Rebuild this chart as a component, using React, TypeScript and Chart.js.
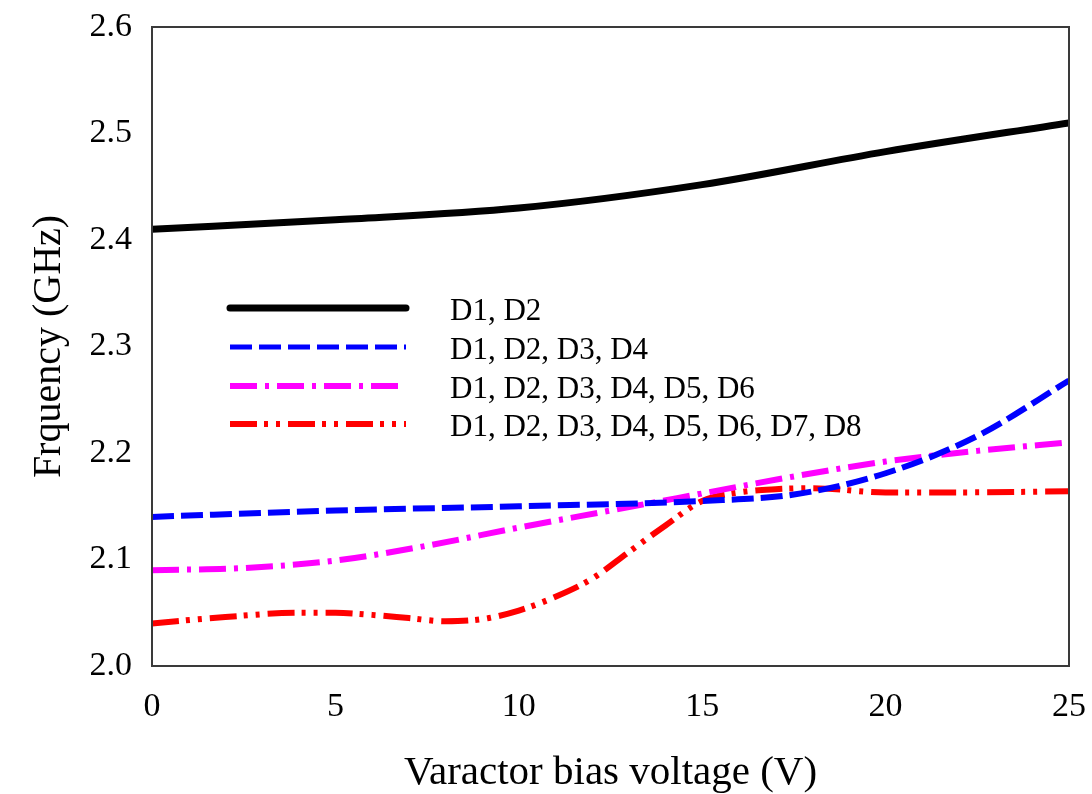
import React, { useEffect, useRef } from "react";
import { Chart, registerables } from "chart.js";

Chart.register(...registerables);

const seriesLabels = [
  "D1, D2",
  "D1, D2, D3, D4",
  "D1, D2, D3, D4, D5, D6",
  "D1, D2, D3, D4, D5, D6, D7, D8",
];

const xBlack = [0, 5, 10, 15, 20, 25];
const yBlack = [2.41, 2.419, 2.43, 2.452, 2.483, 2.51];

const xBlue = [0, 5, 10, 15, 17.5, 20, 22.5, 25];
const yBlue = [2.14, 2.146, 2.15, 2.155, 2.161, 2.181, 2.216, 2.268];

const xMagenta = [0, 2.5, 5, 7.5, 10, 12.5, 15, 17.5, 20, 22.5, 25];
const yMagenta = [2.09, 2.092, 2.099, 2.113, 2.13, 2.146, 2.162, 2.178, 2.192, 2.202, 2.21];

const xRed = [0, 2, 4, 5, 6, 7, 8, 9, 10, 11, 12, 13, 14, 15, 16, 17, 18, 20, 22, 25];
const yRed = [2.04, 2.046, 2.05, 2.05, 2.048, 2.045, 2.042, 2.044, 2.052, 2.065, 2.082, 2.107, 2.132, 2.155, 2.163, 2.166, 2.167, 2.163, 2.163, 2.164];

const xTicks = [0, 5, 10, 15, 20, 25];
const yTicks = [2.0, 2.1, 2.2, 2.3, 2.4, 2.5, 2.6];

const FONT = "'Liberation Serif', 'Times New Roman', serif";

function pts(xs: number[], ys: number[]) {
  return xs.map((x, i) => ({ x, y: ys[i] }));
}

const framePlugin = {
  id: "frame",
  afterDatasetsDraw(chart: any) {
    const { ctx, chartArea } = chart;
    ctx.save();
    ctx.strokeStyle = "#3a3a3a";
    ctx.lineWidth = 2;
    ctx.strokeRect(chartArea.left, chartArea.top, chartArea.right - chartArea.left, chartArea.bottom - chartArea.top);
    ctx.restore();
  },
};

const legendPlugin = {
  id: "customLegend",
  afterDraw(chart: any) {
    const { ctx } = chart;
    const rows = [308, 347, 386, 424];
    const widths = [7, 5, 6, 6];
    ctx.save();
    chart.data.datasets.forEach((ds: any, i: number) => {
      const y = rows[i];
      ctx.beginPath();
      ctx.strokeStyle = ds.borderColor;
      ctx.lineWidth = widths[i];
      ctx.lineCap = i === 0 ? "round" : "butt";
      ctx.setLineDash(ds.borderDash || []);
      ctx.moveTo(230, y);
      ctx.lineTo(406, y);
      ctx.stroke();
      ctx.setLineDash([]);
      ctx.fillStyle = "#000";
      ctx.font = `31px ${FONT}`;
      ctx.textBaseline = "alphabetic";
      ctx.textAlign = "left";
      ctx.fillText(ds.label, 450, y + 12);
    });
    ctx.restore();
  },
};

export default function App() {
  const ref = useRef<HTMLCanvasElement>(null);

  useEffect(() => {
    if (!ref.current) return;
    const common = {
      fill: false,
      pointRadius: 0,
      cubicInterpolationMode: "monotone" as const,
    };
    const chart = new Chart(ref.current, {
      type: "line",
      data: {
        datasets: [
          { ...common, label: seriesLabels[0], data: pts(xBlack, yBlack), borderColor: "#000000", borderWidth: 7, borderDash: [] },
          { ...common, label: seriesLabels[1], data: pts(xBlue, yBlue), borderColor: "#0000ff", borderWidth: 6, borderDash: [22, 7] },
          { ...common, label: seriesLabels[2], data: pts(xMagenta, yMagenta), borderColor: "#ff00ff", borderWidth: 6, borderDash: [27, 8, 4, 8] },
          { ...common, label: seriesLabels[3], data: pts(xRed, yRed), borderColor: "#ff0000", borderWidth: 6, borderDash: [27, 7, 4, 8, 4, 8] },
        ],
      },
      options: {
        animation: false,
        responsive: false,
        maintainAspectRatio: false,
        layout: { padding: { top: 27, right: 23, left: 0, bottom: 0 } },
        plugins: { legend: { display: false }, tooltip: { enabled: false } },
        scales: {
          x: {
            type: "linear",
            min: 0,
            max: 25,
            afterFit: (s: any) => { s.height = 128; s.paddingLeft = 0; s.paddingRight = 0; },
            afterBuildTicks: (s: any) => { s.ticks = xTicks.map((v) => ({ value: v })); },
            grid: { display: false, drawTicks: false },
            border: { display: false },
            ticks: {
              padding: 21,
              color: "#000",
              font: { family: FONT, size: 34 },
              callback: (v: any) => String(v),
            },
            title: {
              display: true,
              text: "Varactor bias voltage (V)",
              color: "#000",
              font: { family: FONT, size: 41, lineHeight: 1 },
              padding: { top: 0, bottom: 0 },
            },
          },
          y: {
            type: "linear",
            min: 2.0,
            max: 2.6,
            afterFit: (s: any) => { s.width = 152; s.paddingTop = 0; s.paddingBottom = 0; },
            afterBuildTicks: (s: any) => { s.ticks = yTicks.map((v) => ({ value: v })); },
            grid: { display: false, drawTicks: false },
            border: { display: false },
            ticks: {
              padding: 20,
              color: "#000",
              font: { family: FONT, size: 34 },
              callback: (v: any) => Number(v).toFixed(1),
            },
            title: {
              display: true,
              text: "Frquency (GHz)",
              color: "#000",
              font: { family: FONT, size: 40, lineHeight: 1 },
              padding: { top: 29, bottom: 0 },
            },
          },
        },
      },
      plugins: [framePlugin, legendPlugin],
    });
    return () => chart.destroy();
  }, []);

  return (
    <div style={{ position: "fixed", left: 0, top: 0, width: 1092, height: 794, background: "#fff" }}>
      <canvas ref={ref} width={1092} height={794} style={{ width: 1092, height: 794, display: "block" }} />
    </div>
  );
}
